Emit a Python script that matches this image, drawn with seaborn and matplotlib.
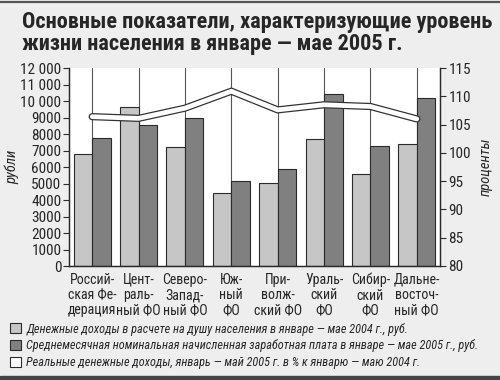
import matplotlib
matplotlib.use('Agg')
import numpy as np
import pandas as pd
import matplotlib.pyplot as plt
import matplotlib.patheffects as pe
from matplotlib.patches import Patch, Rectangle
from matplotlib.lines import Line2D
import seaborn as sns

# --- data ---
regions = ['Россий-\nская Фе-\nдерация', 'Цент-\nраль-\nный ФО', 'Северо-\nЗапад-\nный ФО',
           'Юж-\nный\nФО', 'При-\nволж-\nский ФО', 'Ураль-\nский\nФО',
           'Сибир-\nский\nФО', 'Дальне-\nвосточ-\nный ФО']
income_2004 = [6800, 9650, 7200, 4400, 5050, 7700, 5600, 7400]
wage_2005 = [7750, 8550, 8950, 5150, 5900, 10450, 7300, 10200]
real_income_pct = [106.4, 106.1, 107.9, 110.9, 107.6, 108.5, 108.2, 106.0]

left_ticks = [0, 1000, 2000, 3000, 4000, 5000, 6000, 7000, 8000, 9000, 10000, 11000, 12000]
left_labels = ['0', '1000', '2000', '3000', '4000', '5000', '6000', '7000', '8000', '9000',
               '10 000', '11 000', '12 000']
right_ticks = [80, 85, 90, 95, 100, 105, 110, 115]

series_names = [
    'Денежные доходы в расчете на душу населения в январе — мае 2004 г., руб.',
    'Среднемесячная номинальная начисленная заработная плата в январе — мае 2005 г., руб.',
    'Реальные денежные доходы, январь — май 2005 г. в % к январю — маю 2004 г.',
]
title = 'Основные показатели, характеризующие уровень\nжизни населения в январе — мае 2005 г.'

light = '#c6c6c6'
dark = '#808080'
edge = '#2a2a2a'

sns.set_style('white')
plt.rcParams['font.family'] = ['Roboto Condensed', 'PT Sans Narrow', 'Liberation Sans', 'DejaVu Sans']

df = pd.DataFrame({
    'region': regions * 2,
    'value': income_2004 + wage_2005,
    'series': [series_names[0]] * len(regions) + [series_names[1]] * len(regions),
})

fig = plt.figure(figsize=(5, 3.8), dpi=100, facecolor='#eeeeee')
ax = fig.add_axes([0.138, 0.30, 0.742, 0.521])
ax.set_facecolor('white')

sns.barplot(data=df, x='region', y='value', hue='series', palette=[light, dark],
            saturation=1, width=0.8, edgecolor=edge, linewidth=0.8, legend=False, ax=ax)
ax.set_axisbelow(True)
ax.set_xlim(-0.5, len(regions) - 0.5)
ax.set_ylim(0, 12000)
ax.set_yticks(left_ticks)
ax.set_yticklabels(left_labels)
ax.set_xlabel('')
ax.set_ylabel('рубли', style='italic', fontsize=10.5)
ax.yaxis.set_label_coords(-0.135, 0.5)

# category boundaries carry the tick marks, centres carry grid lines
ax.set_xticks(np.arange(-0.5, len(regions), 1), minor=True)
ax.tick_params(axis='x', which='major', length=0, pad=5, labelsize=10)
ax.tick_params(axis='x', which='minor', length=4, width=0.8, color=edge, direction='out')
ax.tick_params(axis='y', length=4, width=0.8, color=edge, pad=1.5, labelsize=11, left=True)
ax.grid(axis='x', which='major', color='#555555', lw=0.8)
ax.grid(axis='y', visible=False)
for lbl in ax.get_xticklabels():
    lbl.set_linespacing(1.1)

ax2 = ax.twinx()
sns.lineplot(x=np.arange(len(regions)), y=real_income_pct, ax=ax2, color='white', lw=3.4,
             solid_capstyle='round', solid_joinstyle='miter',
             path_effects=[pe.Stroke(linewidth=5.2, foreground='#333333', capstyle='round'), pe.Normal()])
ax2.set_ylim(80, 115)
ax2.set_yticks(right_ticks)
ax2.set_ylabel('проценты', style='italic', fontsize=10.5, rotation=90)
ax2.yaxis.set_label_coords(1.105, 0.5)
ax2.tick_params(axis='y', length=4, width=0.8, color=edge, pad=2, labelsize=11, right=True)

for a in (ax, ax2):
    a.spines['top'].set_visible(False)
    for s in ('left', 'right', 'bottom'):
        a.spines[s].set_color(edge)
        a.spines[s].set_linewidth(0.9)

fig.text(0.044, 0.972, title, fontsize=16, fontweight='bold', va='top', ha='left', linespacing=1.0)

handles = [Patch(facecolor=light, edgecolor=edge, lw=0.8),
           Patch(facecolor=dark, edgecolor=edge, lw=0.8),
           Patch(facecolor='white', edgecolor=edge, lw=0.8)]
fig.legend(handles, series_names, loc='upper left', bbox_to_anchor=(0.02, 0.151),
           frameon=False, prop={'style': 'italic', 'size': 8.8}, handlelength=0.9,
           handleheight=0.9, handletextpad=0.45, labelspacing=0.3, borderpad=0, borderaxespad=0)

fig.add_artist(Line2D([0, 1], [0.996, 0.996], transform=fig.transFigure, color='#555555', lw=1.6))
fig.add_artist(Rectangle((0, 0), 1, 0.011, transform=fig.transFigure, color='#444444'))

fig.savefig('out.png', dpi=100, facecolor=fig.get_facecolor())
